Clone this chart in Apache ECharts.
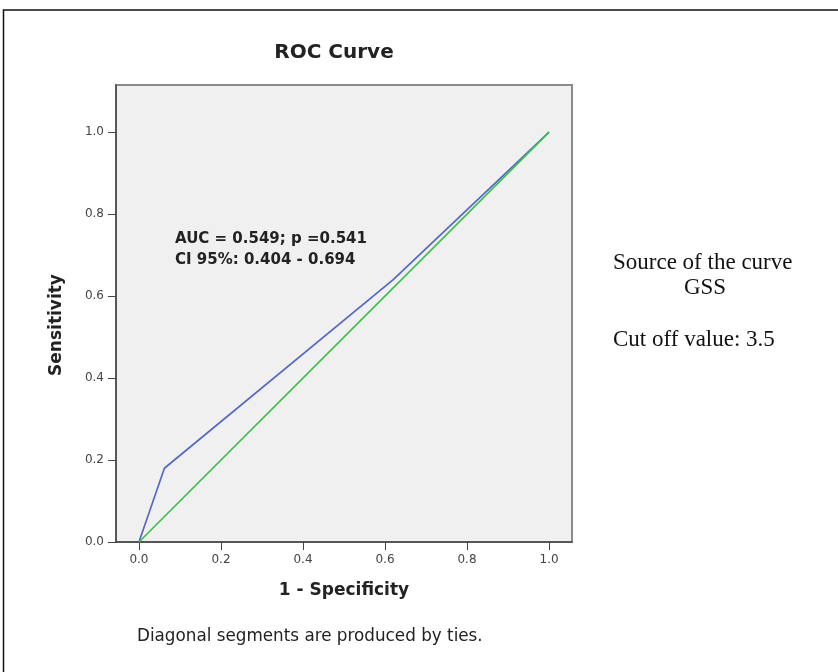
<!DOCTYPE html>
<html>
<head>
<meta charset="utf-8">
<title>ROC Curve</title>
<script src="https://cdn.jsdelivr.net/npm/echarts@6/dist/echarts.min.js"></script>
<style>
  html, body { margin: 0; padding: 0; background: #fff; }
  #chart { width: 838px; height: 672px; }
</style>
</head>
<body>
<div id="chart"></div>
<script>
  // ROC points (1 - specificity, sensitivity)
  var rocX = [0, 0.062, 0.62, 1];
  var rocY = [0, 0.18, 0.64, 1];
  // reference diagonal
  var refX = [0, 1];
  var refY = [0, 1];
  var tickValues = [0, 0.2, 0.4, 0.6, 0.8, 1.0];

  var chart = echarts.init(document.getElementById('chart'));

  var rocData = rocX.map(function (x, i) { return [x, rocY[i]]; });
  var refData = refX.map(function (x, i) { return [x, refY[i]]; });
  var sans = 'DejaVu Sans';

  chart.setOption({
    animation: false,
    grid: {
      left: 116, top: 85, right: 266, bottom: 130,
      show: true,
      backgroundColor: '#f0f0f0',
      borderColor: '#8a8a8a',
      borderWidth: 2
    },
    xAxis: {
      type: 'value',
      min: -0.056,
      max: 1.056,
      name: '1 - Specificity',
      nameLocation: 'middle',
      nameGap: 40,
      nameTextStyle: { fontFamily: sans, fontSize: 17, fontWeight: 'bold', color: '#222' },
      axisLine: { onZero: false, lineStyle: { color: '#444', width: 1.5 } },
      axisTick: { show: true, length: 8, customValues: tickValues, lineStyle: { color: '#444' } },
      axisLabel: {
        customValues: tickValues,
        margin: 12,
        fontFamily: sans, fontSize: 12, color: '#444',
        formatter: function (v) { return v.toFixed(1); }
      },
      splitLine: { show: false }
    },
    yAxis: {
      type: 'value',
      min: 0,
      max: 1.115,
      axisLine: { show: true, onZero: false, lineStyle: { color: '#444', width: 1.5 } },
      axisTick: { show: true, length: 8, customValues: tickValues, lineStyle: { color: '#444' } },
      axisLabel: {
        customValues: tickValues,
        margin: 12,
        fontFamily: sans, fontSize: 12, color: '#444',
        formatter: function (v) { return v.toFixed(1); }
      },
      splitLine: { show: false }
    },
    series: [
      {
        type: 'line',
        data: rocData,
        showSymbol: false,
        lineStyle: { color: '#5567c8', width: 1.7 },
        z: 2
      },
      {
        type: 'line',
        data: refData,
        showSymbol: false,
        lineStyle: { color: '#3cbf4c', width: 1.7 },
        z: 3
      }
    ],
    graphic: [
      {
        type: 'rect',
        shape: { x: 3.5, y: 10, width: 900, height: 700 },
        style: { fill: 'none', stroke: '#111', lineWidth: 1.5 },
        silent: true
      },
      {
        // chart title
        type: 'text', x: 334, y: 53,
        style: {
          text: 'ROC Curve', textAlign: 'center', textVerticalAlign: 'middle',
          fontFamily: sans, fontSize: 20, fontWeight: 'bold', fill: '#222'
        }
      },
      {
        // y axis title
        type: 'text', x: 57, y: 325, rotation: Math.PI / 2,
        style: {
          text: 'Sensitivity', textAlign: 'center', textVerticalAlign: 'middle',
          fontFamily: sans, fontSize: 17, fontWeight: 'bold', fill: '#222'
        }
      },
      {
        type: 'text', left: 175, top: 229,
        style: {
          text: 'AUC = 0.549; p =0.541\nCI 95%: 0.404 - 0.694',
          fontFamily: sans, fontSize: 15, fontWeight: 'bold', fill: '#222', lineHeight: 21
        },
        z: 10
      },
      {
        type: 'text', left: 613, top: 251,
        style: {
          text: 'Source of the curve',
          fontFamily: 'Liberation Serif', fontSize: 23, fill: '#111'
        }
      },
      {
        type: 'text', x: 705, y: 276,
        style: {
          text: 'GSS', textAlign: 'center',
          fontFamily: 'Liberation Serif', fontSize: 23, fill: '#111'
        }
      },
      {
        type: 'text', left: 613, top: 328,
        style: {
          text: 'Cut off value: 3.5',
          fontFamily: 'Liberation Serif', fontSize: 23, fill: '#111'
        }
      },
      {
        type: 'text', left: 137, top: 628,
        style: {
          text: 'Diagonal segments are produced by ties.',
          fontFamily: sans, fontSize: 16.8, fill: '#222'
        }
      }
    ]
  });
</script>
</body>
</html>
